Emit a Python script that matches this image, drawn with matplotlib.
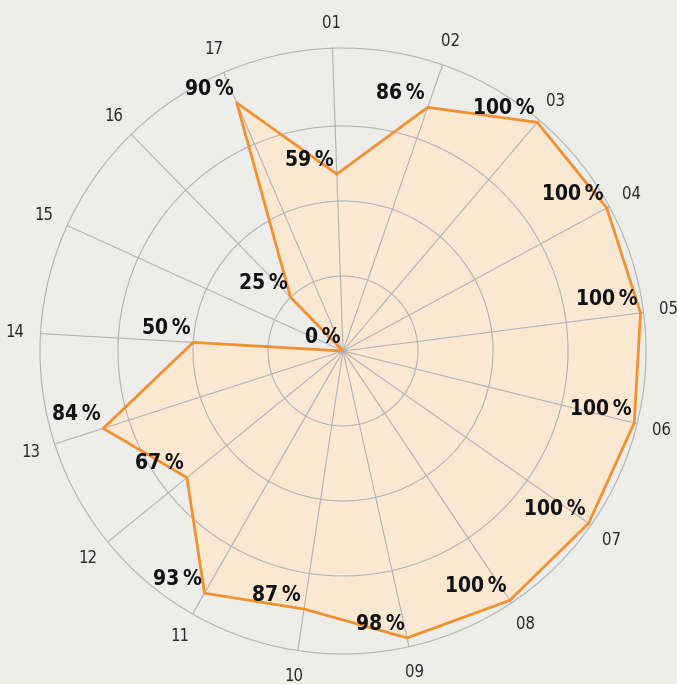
import numpy as np
import matplotlib
matplotlib.use('Agg')
import matplotlib.pyplot as plt
from matplotlib import font_manager

labels = ['01', '02', '03', '04', '05', '06', '07', '08', '09',
          '10', '11', '12', '13', '14', '15', '16', '17']
values = [59, 86, 100, 100, 100, 100, 100, 100, 98,
          87, 93, 67, 84, 50, 0, 25, 90]

BG = '#edeeeb'
LINE = '#f39030'
FILL = '#fbe8d3'
GRID = '#b3b3b3'

# use a condensed face if one is installed
cond = [f for f in font_manager.fontManager.ttflist
        if 'Condensed' in f.fname and 'DejaVuSans' in f.fname]
STRETCH = 'condensed' if cond else 'normal'
FONT = ['DejaVu Sans']

n = len(labels)
theta = np.arange(n) * 2 * np.pi / n
th_closed = np.append(theta, theta[0])
val_closed = np.append(values, values[0])

fig = plt.figure(figsize=(6.77, 6.84), dpi=100, facecolor=BG)
W, H = 677, 684
cx, cy, R = 343, 351, 303
ax = fig.add_axes([(cx - R) / W, (H - cy - R) / H, 2 * R / W, 2 * R / H],
                  projection='polar')
ax.set_facecolor(BG)
ax.set_theta_zero_location('N', offset=2)
ax.set_theta_direction(-1)
ax.set_ylim(0, 101)
ax.set_rticks([25, 50, 75])
ax.set_yticklabels([])
ax.set_xticks(theta)
ax.set_xticklabels([])
ax.grid(True, color=GRID, linewidth=0.8)
ax.set_axisbelow(False)
ax.spines['polar'].set_color(GRID)
ax.spines['polar'].set_linewidth(0.8)
ax.tick_params(length=0)

ax.fill(th_closed, val_closed, color=FILL, zorder=1)
ax.plot(th_closed, val_closed, color=LINE, linewidth=2, zorder=3)

for t, lab in zip(theta, labels):
    ax.text(t, 109.5, lab, ha='center', va='center', fontsize=12,
            family=FONT, stretch=STRETCH, color='#2a2a2a', clip_on=False)

for t, v in zip(theta, values):
    ax.annotate(f'{v}\u2009%', xy=(t, v), xytext=(-2, 3), textcoords='offset points',
                ha='right', va='bottom', fontsize=15, fontweight='bold',
                family=FONT, stretch=STRETCH, color='#111111', zorder=5)

fig.savefig('out.png', dpi=100, facecolor=BG)
